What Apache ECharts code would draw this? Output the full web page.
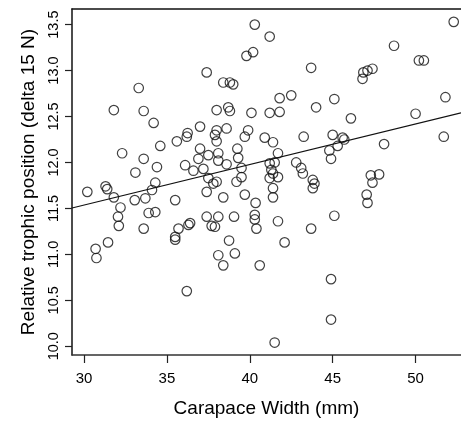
<!DOCTYPE html>
<html>
<head>
<meta charset="utf-8">
<script src="https://cdn.jsdelivr.net/npm/echarts@6/dist/echarts.min.js"></script>
<style>html,body{margin:0;padding:0;background:#fff;}#c{width:461px;height:423px;}</style>
</head>
<body>
<div id="c"></div>
<script>
const carapaceWidth = [
  37.4, 33.3, 31.8, 33.6, 34.2, 37.0, 36.25, 36.2, 35.6, 34.6,
  32.3, 33.6, 37.0, 36.9, 36.1, 34.4, 33.1, 36.6, 37.2, 34.3,
  31.3, 37.5, 30.2, 31.4, 31.8, 32.2, 32.05, 32.1, 31.45, 30.7,
  30.75, 33.06, 33.7, 34.1, 33.9, 34.3, 33.6, 35.5, 35.7, 35.5,
  35.5, 36.3, 36.4, 36.2, 37.4, 37.4, 40.3, 41.2, 40.2, 39.8,
  43.7, 38.4, 38.8, 39.0, 41.8, 42.5, 45.1, 44.0, 38.0, 38.7,
  38.8, 40.1, 41.2, 41.8, 38.0, 38.6, 37.9, 38.0, 39.9, 39.7,
  40.9, 41.4, 43.25, 45.0, 41.7, 44.8, 44.9, 39.25, 39.3, 38.1,
  38.1, 37.5, 38.6, 39.5, 39.5, 38.0, 39.2, 41.2, 41.5, 41.3,
  41.4, 41.7, 41.2, 42.8, 43.1, 43.2, 43.8, 43.9, 52.3, 48.7,
  50.2, 50.5, 47.4, 47.1, 46.85, 46.8, 51.8, 46.1, 50.0, 45.6,
  45.7, 45.3, 48.1, 51.7, 47.3, 47.8, 47.4, 37.8, 38.4, 39.7,
  40.35, 41.4, 41.4, 43.8, 38.1, 37.7, 37.9, 39.05, 40.3, 40.3,
  40.4, 41.7, 43.7, 45.1, 38.75, 42.1, 38.1, 39.1, 38.4, 40.6,
  44.9, 44.9, 41.5, 47.05, 47.1
];
const trophicPosition = [
  12.98, 12.81, 12.57, 12.56, 12.43, 12.39, 12.32, 12.28, 12.23, 12.18,
  12.10, 12.04, 12.15, 12.04, 11.97, 11.95, 11.89, 11.91, 11.93, 11.78,
  11.74, 11.83, 11.68, 11.71, 11.62, 11.51, 11.41, 11.31, 11.13, 11.06,
  10.96, 11.59, 11.61, 11.70, 11.45, 11.46, 11.28, 11.59, 11.28, 11.19,
  11.16, 11.32, 11.34, 10.60, 11.68, 11.41, 13.50, 13.37, 13.20, 13.16,
  13.03, 12.87, 12.87, 12.85, 12.70, 12.73, 12.69, 12.60, 12.57, 12.60,
  12.56, 12.54, 12.54, 12.55, 12.35, 12.37, 12.30, 12.23, 12.35, 12.28,
  12.27, 12.22, 12.28, 12.30, 12.10, 12.13, 12.04, 12.15, 12.05, 12.10,
  12.02, 12.08, 11.98, 11.94, 11.84, 11.79, 11.79, 11.99, 12.00, 11.92,
  11.88, 11.84, 11.83, 12.00, 11.94, 11.88, 11.81, 11.77, 13.53, 13.27,
  13.11, 13.11, 13.02, 13.00, 12.98, 12.91, 12.71, 12.48, 12.53, 12.27,
  12.25, 12.18, 12.20, 12.28, 11.86, 11.87, 11.78, 11.77, 11.62, 11.65,
  11.56, 11.72, 11.62, 11.72, 11.41, 11.31, 11.30, 11.41, 11.43, 11.38,
  11.28, 11.36, 11.28, 11.42, 11.15, 11.13, 10.99, 11.01, 10.88, 10.88,
  10.73, 10.29, 10.04, 11.65, 11.56
];
const fitX = [29.276, 52.74];
const fitY = [11.504, 12.54];
const xTickValues = [30, 35, 40, 45, 50];
const yTickValues = [10, 10.5, 11, 11.5, 12, 12.5, 13, 13.5];
const xTitle = 'Carapace Width (mm)';
const yTitle = 'Relative trophic position (delta 15 N)';

const FONT = "'Liberation Sans', Arial, sans-serif";
const points = carapaceWidth.map((x, i) => [x, trophicPosition[i]]);
const fitLine = fitX.map((x, i) => [x, fitY[i]]);

const chart = echarts.init(document.getElementById('c'), null, {renderer: 'canvas'});
chart.setOption({
  animation: false,
  backgroundColor: '#fff',
  grid: {left: 72, right: 0, top: 9, bottom: 59, containLabel: false},
  xAxis: [{
    type: 'value', min: 29.276, max: 52.74, position: 'bottom',
    name: xTitle, nameLocation: 'middle', nameGap: 44,
    nameTextStyle: {fontFamily: FONT, fontSize: 19, color: '#000'},
    splitLine: {show: false},
    axisLine: {show: true, onZero: false, lineStyle: {color: '#333', width: 1.5}},
    axisTick: {show: true, inside: false, length: 8, customValues: xTickValues, lineStyle: {color: '#222', width: 1.2}},
    axisLabel: {show: true, margin: 16, customValues: xTickValues, fontFamily: FONT, fontSize: 15, color: '#000',
      formatter: v => String(v)}
  }, {
    type: 'value', min: 29.276, max: 52.74, position: 'top',
    splitLine: {show: false},
    axisLine: {show: true, onZero: false, lineStyle: {color: '#111', width: 1.5}},
    axisTick: {show: false}, axisLabel: {show: false}
  }],
  yAxis: {
    type: 'value', min: 9.9045, max: 13.67,
    name: yTitle, nameLocation: 'middle', nameGap: 31, nameRotate: 90,
    nameTextStyle: {fontFamily: FONT, fontSize: 19, color: '#000'},
    splitLine: {show: false},
    axisLine: {show: true, onZero: false, lineStyle: {color: '#111', width: 1.5}},
    axisTick: {show: true, inside: false, length: 7, customValues: yTickValues, lineStyle: {color: '#222', width: 1.2}},
    axisLabel: {show: true, margin: 11, rotate: 90, customValues: yTickValues, fontFamily: FONT, fontSize: 14.5, color: '#000',
      formatter: v => v.toFixed(1)}
  },
  series: [{
    type: 'scatter', xAxisIndex: 0, data: points, symbol: 'circle', symbolSize: 9.5,
    itemStyle: {color: 'rgba(0,0,0,0)', borderColor: '#111', borderWidth: 1.2},
    emphasis: {disabled: true}, z: 3
  }, {
    type: 'line', xAxisIndex: 0, data: fitLine, showSymbol: false, symbol: 'none',
    lineStyle: {color: '#111', width: 1.2}, emphasis: {disabled: true}, z: 2
  }]
});
</script>
</body>
</html>
